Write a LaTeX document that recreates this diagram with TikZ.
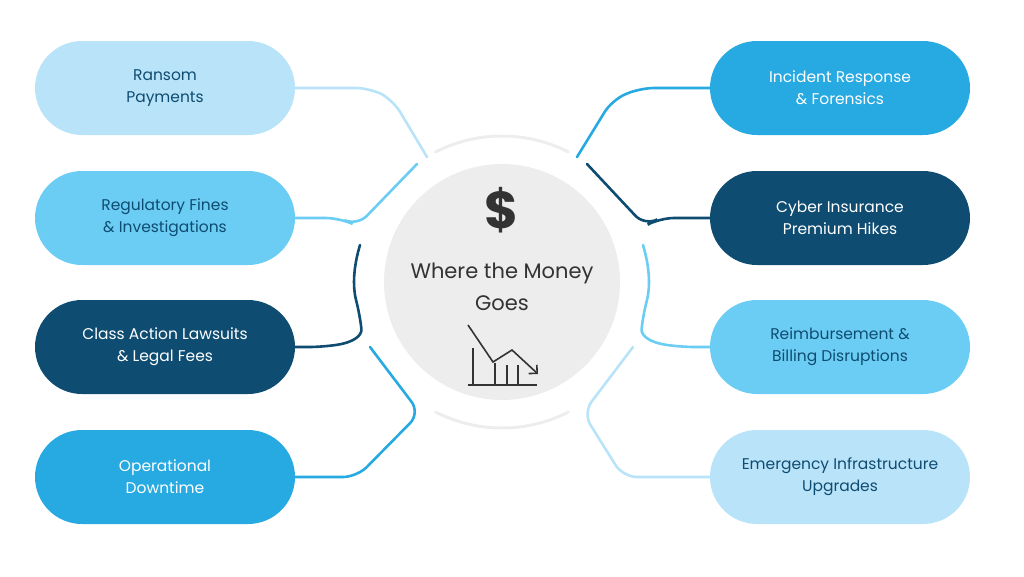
\documentclass[tikz,border=0pt]{standalone}
\usepackage{fontspec}
\setmainfont{Poppins}
\usetikzlibrary{arrows.meta}
\definecolor{cLight}{HTML}{B9E3F8}
\definecolor{cMid}{HTML}{6CCDF4}
\definecolor{cDark}{HTML}{0E4C72}
\definecolor{cBright}{HTML}{27A9E1}
\definecolor{cGray}{HTML}{EDEDED}
\definecolor{cIcon}{HTML}{333333}
\begin{document}
\begin{tikzpicture}[x=1pt,y=-1pt,
  pill/.style={rounded corners=47pt,minimum width=260pt,minimum height=94pt,align=center,font=\fontsize{15.5}{22}\selectfont,inner sep=0pt},
  conn/.style={line width=2.6pt,line cap=round,rounded corners=14pt}]
\useasboundingbox (0,0) rectangle (1024,576);
% center
\fill[cGray] (502,282) circle (118);
\draw[cGray,line width=3pt,line cap=round] (502,282) ++(63:146) arc (63:117:146);
\draw[cGray,line width=3pt,line cap=round] (502,282) ++(-63:146) arc (-63:-117:146);
\node[font=\fontsize{52}{52}\selectfont\bfseries,text=cIcon] (dollar) at (502,210) {\$};
\node[font=\fontsize{21}{32}\selectfont,text=cIcon,align=center] (title) at (502,287) {Where the Money\\Goes};
\draw[cIcon,line width=1.6pt] (468,385) -- (537,385);
\foreach \x/\t in {473/348,495/363,507/365,518/365} \draw[cIcon,line width=1.6pt] (\x,385) -- (\x,\t);
\draw[cIcon,line width=1.6pt,-{Straight Barb[length=6pt,width=12pt]}] (468,325) -- (493,362) -- (512,350) -- (538,374);
% pills
\node[pill,fill=cLight,text=cDark] (l1) at (165,88) {Ransom\\Payments};
\node[pill,fill=cMid,text=cDark] (l2) at (165,218) {Regulatory Fines\\\& Investigations};
\node[pill,fill=cDark,text=white] (l3) at (165,347) {Class Action Lawsuits\\\& Legal Fees};
\node[pill,fill=cBright,text=white] (l4) at (165,477) {Operational\\Downtime};
\node[pill,fill=cBright,text=white] (r1) at (840,88) {Incident Response\\\& Forensics};
\node[pill,fill=cDark,text=white] (r2) at (840,218) {Cyber Insurance\\Premium Hikes};
\node[pill,fill=cMid,text=cDark] (r3) at (840,347) {Reimbursement \&\\Billing Disruptions};
\node[pill,fill=cLight,text=cDark] (r4) at (840,477) {Emergency Infrastructure\\Upgrades};
% connector ends
\coordinate (e1) at (427,157);
\coordinate (e2) at (417,164);
\coordinate (e3) at (360,245);
\coordinate (e4) at (370,347);
\coordinate (f1) at (577,157);
\coordinate (f2) at (587,164);
\coordinate (f3) at (643,245);
\coordinate (f4) at (633,347);
\draw[conn,cLight] (l1.east) -- (370,88) -- (393,100) -- (e1);
\draw[conn,cMid] (l2.east) -- (340,218) -- (357,226) -- (e2);
\draw[conn,cDark] (l3.east) -- (323,347) .. controls (355,342) and (362,335) .. (360,315) .. controls (352,285) and (354,265) .. (e3);
\draw[conn,cBright] (l4.east) -- (357,477) -- (420,413) -- (e4);
\draw[conn,cBright] (r1.west) -- (640,88) -- (612,100) -- (f1);
\draw[conn,cDark] (r2.west) -- (660,218) -- (645,226) -- (f2);
\draw[conn,cMid] (r3.west) -- (680,347) .. controls (648,342) and (641,335) .. (643,315) .. controls (651,285) and (649,265) .. (f3);
\draw[conn,cLight] (r4.west) -- (623,477) -- (583,413) -- (f4);
\end{tikzpicture}
\end{document}
